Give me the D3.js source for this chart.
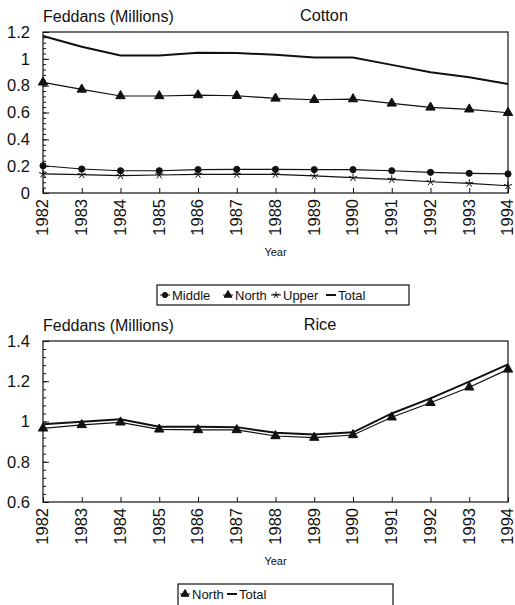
<!DOCTYPE html>
<html>
<head>
<meta charset="utf-8">
<script src="https://cdn.jsdelivr.net/npm/d3@7"></script>
<style>
  body { margin: 0; background: #fff; }
  text { font-family: "Liberation Sans", Arial, sans-serif; fill: #111; }
</style>
</head>
<body>
<div id="container"></div>
<script>
// data
const years = ["1982", "1983", "1984", "1985", "1986", "1987", "1988",
               "1989", "1990", "1991", "1992", "1993", "1994"];

// cotton, millions of feddans
const cottonTotal  = [1.17, 1.09, 1.025, 1.025, 1.045, 1.043, 1.03, 1.01, 1.01, 0.955, 0.90, 0.862, 0.812];
const cottonNorth  = [0.825, 0.772, 0.723, 0.723, 0.73, 0.725, 0.705, 0.695, 0.70, 0.668, 0.638, 0.624, 0.598];
const cottonMiddle = [0.203, 0.179, 0.166, 0.166, 0.174, 0.176, 0.176, 0.174, 0.174, 0.166, 0.154, 0.147, 0.142];
const cottonUpper  = [0.142, 0.137, 0.129, 0.134, 0.139, 0.139, 0.139, 0.127, 0.114, 0.102, 0.084, 0.072, 0.054];

// rice, millions of feddans
const riceTotal = [0.986, 0.999, 1.011, 0.974, 0.974, 0.972, 0.944, 0.936, 0.946, 1.04, 1.115, 1.198, 1.284];
const riceNorth = [0.966, 0.983, 0.996, 0.961, 0.958, 0.958, 0.928, 0.92, 0.933, 1.021, 1.093, 1.17, 1.259];

// tick labels
const cottonTicks = [0, 0.2, 0.4, 0.6, 0.8, 1, 1.2];
const riceTicks = [0.6, 0.8, 1, 1.2, 1.4];

const w = 515;
const h = 605;
const left = 43;
const right = 508;

let svg = d3.select("#container")
    .append("svg")
    .attr("width", w)
    .attr("height", h)
;

// 5 armed asterisk used for "Upper"
const symbolAst = {
    draw(ctx, size) {
        const r = Math.sqrt(size) / 2;
        for (let k = 0; k < 5; k++) {
            const a = -Math.PI / 2 + k * 2 * Math.PI / 5;
            ctx.moveTo(0, 0);
            ctx.lineTo(r * Math.cos(a), r * Math.sin(a));
        }
    }
};

const markers = {
    circle: { type: d3.symbolCircle, size: 30, fill: "#111" },
    triangle: { type: d3.symbolTriangle, size: 38, fill: "#111" },
    ast: { type: symbolAst, size: 70, fill: "none" },
    none: null
};

let xScale = d3.scalePoint().domain(years).range([left, right]);

function drawPanel(cfg) {
    const g = svg.append("g");
    const y = d3.scaleLinear().domain(cfg.domain).range([cfg.bottom, cfg.top]);

    // frame
    g.append("rect")
        .attr("x", left).attr("y", cfg.top)
        .attr("width", right - left).attr("height", cfg.bottom - cfg.top)
        .attr("fill", "none").attr("stroke", "#111").attr("stroke-width", 1.2);

    // minor y ticks (inside)
    const minor = d3.range(cfg.domain[0], cfg.domain[1] + 1e-9, cfg.minorStep);
    g.append("g")
        .attr("transform", `translate(${left},0)`)
        .call(d3.axisRight(y).tickValues(minor).tickSize(3).tickFormat(""))
        .call(a => a.select(".domain").remove())
        .selectAll("line").attr("stroke", "#111");
    g.append("g")
        .attr("transform", `translate(${left},0)`)
        .call(d3.axisRight(y).tickValues(cfg.ticks).tickSize(6).tickFormat(""))
        .call(a => a.select(".domain").remove())
        .selectAll("line").attr("stroke", "#111");

    // y labels
    const yAxis = g.append("g")
        .attr("transform", `translate(${left - 10},0)`)
        .call(d3.axisLeft(y).tickValues(cfg.ticks).tickSize(0).tickFormat(d => d3.format("")(+d.toFixed(1))));
    yAxis.select(".domain").remove();
    yAxis.selectAll("text")
        .attr("font-size", 16.5)
        .attr("font-family", "Liberation Sans, Arial, sans-serif")
        .attr("fill", "#111");

    // x ticks pointing up
    g.append("g")
        .attr("transform", `translate(0,${cfg.bottom})`)
        .call(d3.axisTop(xScale).tickSize(5).tickFormat(""))
        .call(a => a.select(".domain").remove())
        .selectAll("line").attr("stroke", "#111");

    // year labels rotated
    const xAxis = g.append("g")
        .attr("transform", `translate(0,${cfg.bottom})`)
        .call(d3.axisBottom(xScale).tickSize(0));
    xAxis.select(".domain").remove();
    xAxis.selectAll("text")
        .attr("font-size", 16.5)
        .attr("font-family", "Liberation Sans, Arial, sans-serif")
        .attr("fill", "#111")
        .attr("text-anchor", "end")
        .attr("transform", "translate(0,6) rotate(-90)")
        .attr("x", 0)
        .attr("y", 0)
        .attr("dy", "0.3em");

    // titles
    g.append("text")
        .attr("x", left).attr("y", cfg.top - 10)
        .attr("font-size", 16)
        .text("Feddans (Millions)");
    g.append("text")
        .attr("x", cfg.titleX).attr("y", cfg.top - 11)
        .attr("font-size", 16.3)
        .attr("text-anchor", "middle")
        .text(cfg.title);
    g.append("text")
        .attr("x", 275.5).attr("y", cfg.bottom + 63)
        .attr("font-size", 11)
        .attr("text-anchor", "middle")
        .text("Year");

    // series
    const line = d3.line()
        .x((d, i) => xScale(years[i]))
        .y(d => y(d));
    cfg.series.forEach(s => {
        g.append("path")
            .datum(s.values)
            .attr("d", line)
            .attr("fill", "none")
            .attr("stroke", "#111")
            .attr("stroke-width", s.width);
        const m = markers[s.marker];
        if (m) {
            g.selectAll(null)
                .data(s.values)
                .join("path")
                .attr("transform", (d, i) => `translate(${xScale(years[i])},${y(d)})`)
                .attr("d", d3.symbol().type(m.type).size(m.size))
                .attr("fill", m.fill)
                .attr("stroke", "#111")
                .attr("stroke-width", 1);
        }
    });

    // legend
    const lg = g.append("g");
    lg.append("rect")
        .attr("x", cfg.legend.x).attr("y", cfg.legend.y)
        .attr("width", cfg.legend.w).attr("height", cfg.legend.h)
        .attr("fill", "#fff").attr("stroke", "#111").attr("stroke-width", 1.2);
    const cy = cfg.legend.y + 10;
    cfg.legendItems.forEach(it => {
        const s = cfg.series.find(d => d.name === it.name);
        lg.append("line")
            .attr("x1", it.x - 5).attr("x2", it.x + 5)
            .attr("y1", cy).attr("y2", cy)
            .attr("stroke", "#111").attr("stroke-width", s.marker === "none" ? 2 : 1);
        const m = markers[s.marker];
        if (m) {
            lg.append("path")
                .attr("transform", `translate(${it.x},${cy})`)
                .attr("d", d3.symbol().type(m.type).size(m.size * 0.7))
                .attr("fill", m.fill)
                .attr("stroke", "#111");
        }
        lg.append("text")
            .attr("x", it.x + 7).attr("y", cy + 4.5)
            .attr("font-size", 13)
            .text(it.name);
    });
}

drawPanel({
    top: 32, bottom: 193,
    domain: [0, 1.2], ticks: cottonTicks, minorStep: 0.04,
    title: "Cotton", titleX: 324,
    series: [
        { name: "Middle", values: cottonMiddle, marker: "circle", width: 1.2 },
        { name: "North", values: cottonNorth, marker: "triangle", width: 1.2 },
        { name: "Upper", values: cottonUpper, marker: "ast", width: 1.2 },
        { name: "Total", values: cottonTotal, marker: "none", width: 2 }
    ],
    legend: { x: 157, y: 285, w: 252, h: 20 },
    legendItems: [
        { name: "Middle", x: 165 },
        { name: "North", x: 228 },
        { name: "Upper", x: 276 },
        { name: "Total", x: 331 }
    ]
});

drawPanel({
    top: 341, bottom: 502,
    domain: [0.6, 1.4], ticks: riceTicks, minorStep: 0.04,
    title: "Rice", titleX: 320,
    series: [
        { name: "North", values: riceNorth, marker: "triangle", width: 1.2 },
        { name: "Total", values: riceTotal, marker: "none", width: 2 }
    ],
    legend: { x: 178, y: 584, w: 215, h: 30 },
    legendItems: [
        { name: "North", x: 185 },
        { name: "Total", x: 232 }
    ]
});
</script>
</body>
</html>
